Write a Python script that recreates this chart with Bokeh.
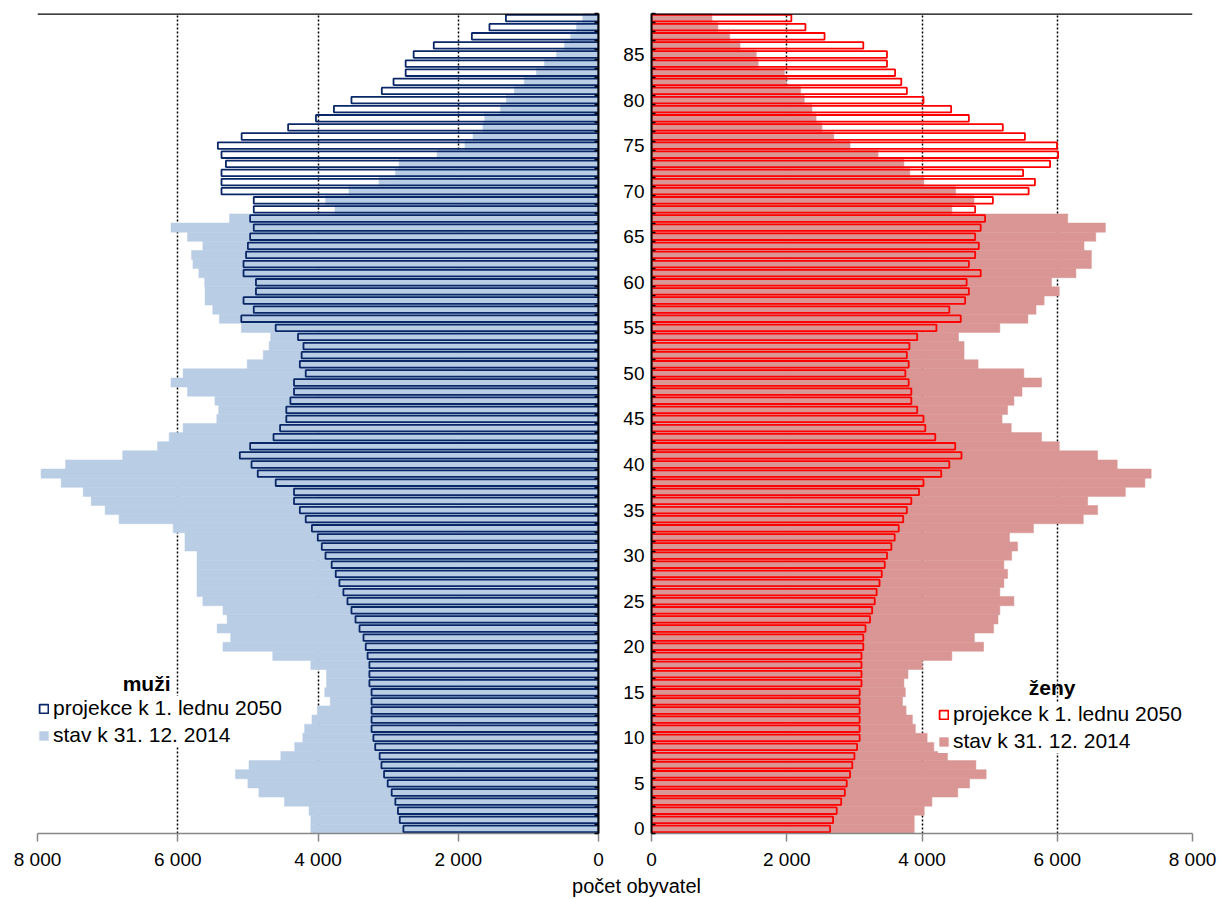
from bokeh.plotting import figure
from bokeh.layouts import row, column
from bokeh.models import (Range1d, FixedTicker, LinearAxis, Span, Label, Legend,
                          LegendItem, CustomJSTickFormatter)
from bokeh.embed import file_html
from bokeh.resources import INLINE

# ---------------- data (age 0 .. 89) ----------------
ages = list(range(90))

men_2050 = [2782, 2834, 2860, 2897, 2949, 3006, 3058, 3095, 3121, 3184,
            3210, 3236, 3236, 3236, 3236, 3236, 3267, 3267, 3267, 3293,
            3319, 3351, 3408, 3465, 3523, 3580, 3638, 3695, 3747, 3805,
            3893, 3946, 4003, 4087, 4175, 4259, 4342, 4342, 4603, 4859,
            4948, 5115, 4968, 4634, 4541, 4452, 4452, 4394, 4342, 4342,
            4175, 4259, 4233, 4207, 4285, 4603, 5094, 4916, 5062, 4885,
            4885, 5062, 5062, 5026, 5000, 4968, 4916, 4968, 4916, 4916,
            5376, 5376, 5376, 5313, 5376, 5428, 5089, 4426, 4029, 3773,
            3523, 3090, 2923, 2750, 2750, 2636, 2349, 1806, 1555, 1320]

men_2014 = [4102, 4102, 4128, 4478, 4843, 5000, 5177, 4984, 4530, 4332,
            4217, 4191, 4086, 4008, 3825, 3904, 3878, 3878, 4102, 4645,
            5355, 5245, 5438, 5297, 5355, 5642, 5725, 5725, 5725, 5725,
            5725, 5897, 5897, 6065, 6837, 7035, 7234, 7348, 7662, 7949,
            7599, 6785, 6289, 6122, 5924, 5443, 5417, 5470, 5861, 6096,
            5924, 5010, 4781, 4697, 4676, 5094, 5407, 5501, 5610, 5610,
            5616, 5699, 5783, 5803, 5642, 5861, 6096, 5261, 3758, 3893,
            3559, 3131, 2897, 2844, 2302, 1905, 1790, 1649, 1623, 1399,
            1315, 1200, 1059, 887, 772, 600, 485, 397, 313, 224]

women_2050 = [2641, 2685, 2739, 2805, 2859, 2887, 2936, 2969, 3001, 3040,
              3078, 3078, 3078, 3078, 3078, 3078, 3105, 3105, 3105, 3105,
              3132, 3132, 3165, 3231, 3263, 3301, 3329, 3372, 3405, 3449,
              3482, 3547, 3596, 3656, 3722, 3776, 3842, 3956, 4022, 4284,
              4404, 4584, 4491, 4196, 4049, 4022, 3929, 3842, 3842, 3803,
              3754, 3803, 3776, 3814, 3929, 4213, 4573, 4404, 4638, 4693,
              4660, 4868, 4693, 4786, 4840, 4786, 4868, 4933, 4786, 5048,
              5577, 5670, 5495, 5894, 6013, 5997, 5522, 5195, 4693, 4431,
              4022, 3776, 3694, 3602, 3482, 3482, 3132, 2559, 2276, 2068]

women_2014 = [3885, 3885, 4033, 4147, 4529, 4704, 4949, 4797, 4377, 4175,
              4076, 3902, 3858, 3765, 3711, 3754, 3733, 3793, 4005, 4442,
              4911, 4775, 5059, 5124, 5151, 5359, 5151, 5211, 5266, 5211,
              5326, 5413, 5293, 5648, 6385, 6597, 6450, 7007, 7296, 7389,
              6887, 6597, 6030, 5768, 5320, 5184, 5266, 5359, 5479, 5768,
              5506, 4829, 4622, 4622, 4540, 5151, 5566, 5686, 5806, 6030,
              5915, 6276, 6505, 6505, 6396, 6570, 6712, 6155, 4442, 4769,
              4497, 4027, 3820, 3733, 3351, 2936, 2696, 2521, 2434, 2374,
              2259, 2205, 1992, 1965, 1577, 1550, 1310, 1157, 982, 895]

x_ticks = [0, 2000, 4000, 6000, 8000]
age_label_ticks = list(range(0, 90, 5))
label_proj = "projekce k 1. lednu 2050"
label_2014 = "stav k 31. 12. 2014"
title_m = "muži"
title_f = "ženy"
x_title = "počet obyvatel"

# ---------------- styles ----------------
FONT = "Liberation Sans"
NAVY = "#0A2868"
LIGHTBLUE = "#B9CDE5"
RED = "#FF0000"
PINK = "#D99694"
TICK_SIZE = "19px"
LEG_SIZE = "21px"
HEAD_SIZE = "21px"

ROW_H = 874
TITLE_H = 25

fmt = CustomJSTickFormatter(code="""
    if (tick == 0) { return '0'; }
    return (tick / 1000).toFixed(0) + ' 000';
""")

boundaries = [i - 0.5 for i in range(91)]


def style_common(p):
    p.xaxis.ticker = FixedTicker(ticks=x_ticks)
    p.xaxis.formatter = fmt
    p.xaxis.axis_line_color = "#868686"
    p.xaxis.axis_line_width = 1.5
    p.xaxis.major_tick_line_color = "#868686"
    p.xaxis.major_tick_line_width = 1.5
    p.xaxis.major_tick_out = 8
    p.xaxis.major_tick_in = 0
    p.xaxis.minor_tick_line_color = None
    p.xaxis.major_label_text_font = FONT
    p.xaxis.major_label_text_font_size = TICK_SIZE
    p.xaxis.major_label_text_color = "black"
    p.xaxis.major_label_standoff = 7
    p.xgrid.ticker = FixedTicker(ticks=[2000, 4000, 6000, 8000])
    p.xgrid.grid_line_color = "black"
    p.xgrid.grid_line_dash = "2 2"
    p.xgrid.grid_line_width = 1.5
    p.ygrid.grid_line_color = None
    p.outline_line_color = None
    p.add_layout(Span(location=89.5, dimension="width", line_color="black",
                      line_width=2.5))


def make_legend(r_proj, r_2014, loc):
    return Legend(items=[LegendItem(label=label_proj, renderers=[r_proj]),
                         LegendItem(label=label_2014, renderers=[r_2014])],
                  location=loc, background_fill_color="white",
                  background_fill_alpha=1.0, border_line_color=None,
                  padding=2, margin=0, spacing=3, glyph_width=11,
                  glyph_height=11, label_standoff=4, label_height=24,
                  label_text_font=FONT, label_text_font_size=LEG_SIZE,
                  label_text_color="black")


# ---------------- left panel (men) ----------------
left = figure(width=604, height=ROW_H, x_range=Range1d(8000, 0),
              y_range=Range1d(-0.5, 89.5), output_backend="svg",
              toolbar_location=None, y_axis_location=None,
              min_border_left=37, min_border_right=6,
              min_border_top=13, min_border_bottom=ROW_H - 13 - 820)
style_common(left)

m14 = left.hbar(y=ages, right=men_2014, left=0, height=1.0,
                fill_color=LIGHTBLUE, line_color=LIGHTBLUE, line_width=0.5)
m50 = left.hbar(y=ages, right=men_2050, left=0, height=0.72,
                fill_color=None, line_color=NAVY, line_width=1.8)

ax_l = LinearAxis(ticker=FixedTicker(ticks=[], minor_ticks=boundaries),
                  major_label_text_font_size="0px",
                  axis_line_color="black", axis_line_width=2,
                  major_tick_line_color=None,
                  minor_tick_line_color="black", minor_tick_line_width=1.5,
                  minor_tick_in=4, minor_tick_out=0)
left.add_layout(ax_l, "right")

left.add_layout(make_legend(m50, m14, (1, 86)), "center")
left.add_layout(Label(x=6103, y=16, text=title_m, text_align="right",
                      text_baseline="middle", text_font=FONT,
                      text_font_size=HEAD_SIZE, text_font_style="bold",
                      text_color="black"))

# ---------------- right panel (women) ----------------
right = figure(width=615, height=ROW_H, x_range=Range1d(0, 8000),
               y_range=Range1d(-0.5, 89.5), output_backend="svg",
               toolbar_location=None, y_axis_location="left",
               min_border_left=47, min_border_right=27,
               min_border_top=13, min_border_bottom=ROW_H - 13 - 820)
style_common(right)

f14 = right.hbar(y=ages, right=women_2014, left=0, height=1.0,
                 fill_color=PINK, line_color=PINK, line_width=0.5)
f50 = right.hbar(y=ages, right=women_2050, left=0, height=0.72,
                 fill_color=None, line_color=RED, line_width=1.8)

ya = right.yaxis[0]
ya.ticker = FixedTicker(ticks=age_label_ticks, minor_ticks=boundaries)
ya.axis_line_color = "black"
ya.axis_line_width = 2
ya.major_tick_in = 0
ya.major_tick_out = 0
ya.major_tick_line_color = None
ya.minor_tick_line_color = "black"
ya.minor_tick_line_width = 1.5
ya.minor_tick_in = 4
ya.minor_tick_out = 0
ya.major_label_text_font = FONT
ya.major_label_text_font_size = TICK_SIZE
ya.major_label_text_color = "black"
ya.major_label_standoff = 7

right.add_layout(make_legend(f50, f14, (287, 80)), "center")
right.add_layout(Label(x=5924, y=15.5, text=title_f, text_align="center",
                       text_baseline="middle", text_font=FONT,
                       text_font_size=HEAD_SIZE, text_font_style="bold",
                       text_color="black"))

# ---------------- shared axis title strip ----------------
tw = 604 + 615
tfig = figure(width=tw, height=TITLE_H, x_range=Range1d(0, tw),
              y_range=Range1d(0, TITLE_H), output_backend="svg",
              toolbar_location=None, min_border=0,
              x_axis_location=None, y_axis_location=None)
tfig.xgrid.grid_line_color = None
tfig.ygrid.grid_line_color = None
tfig.outline_line_color = None
tfig.add_layout(Label(x=636, y=TITLE_H - 11, text=x_title, text_align="center",
                      text_baseline="middle", text_font=FONT,
                      text_font_size="20px", text_color="black"))

layout = column(row(left, right), tfig)
open("out.html", "w").write(file_html(layout, INLINE))
